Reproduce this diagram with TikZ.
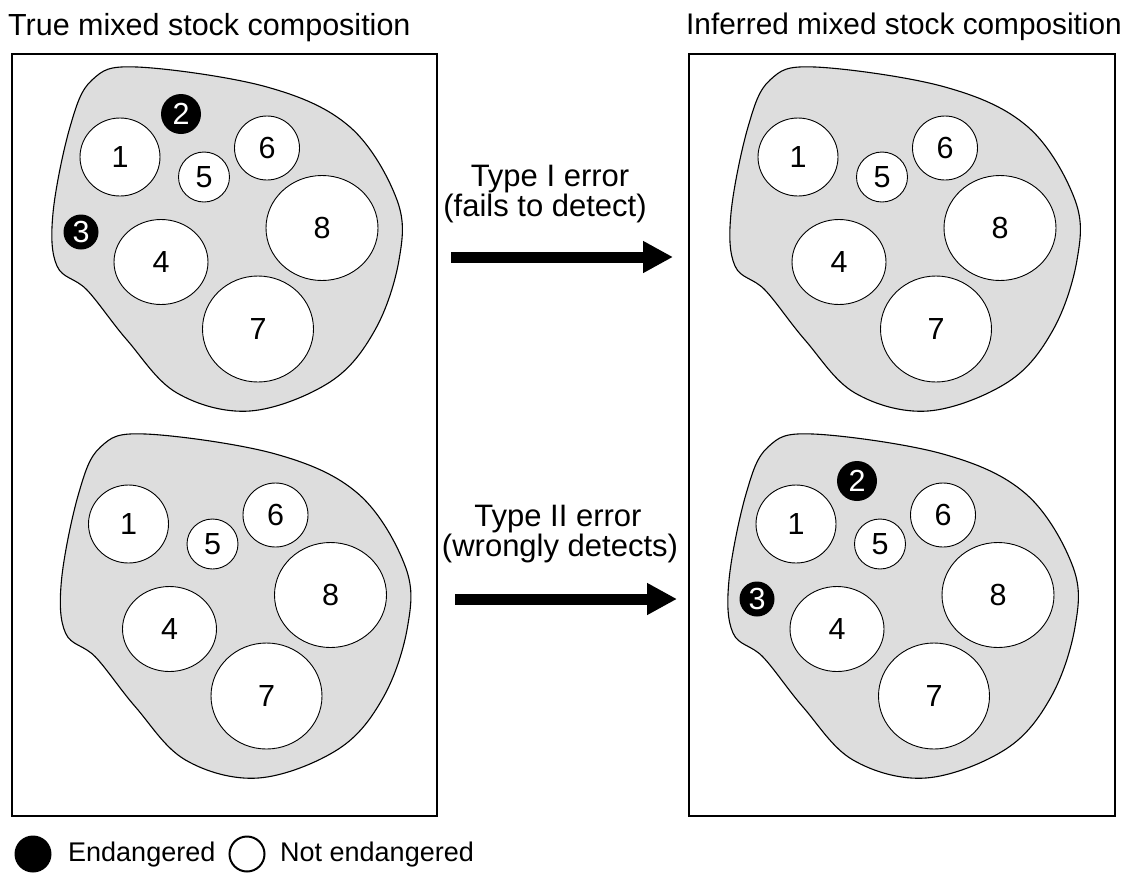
\documentclass[tikz,border=0pt]{standalone}
\usepackage{fontspec}
\setmainfont{Liberation Sans}
\usetikzlibrary{shapes.geometric,arrows.meta}
\definecolor{blobgray}{RGB}{221,221,221}
\tikzset{
  boxframe/.style={draw, line width=2pt},
  blob/.style={draw, fill=blobgray, line width=1.1pt},
  wnode/.style={ellipse, draw, fill=white, line width=0.9pt, inner sep=0pt, font=\fontsize{30.5}{30}\selectfont},
  bnode/.style={circle, fill=black, text=white, inner sep=0pt, font=\fontsize{30.5}{30}\selectfont},
  titletext/.style={anchor=base west, inner sep=0pt, font=\fontsize{30.5}{30}\selectfont},
  lbltext/.style={anchor=base, inner sep=0pt, font=\fontsize{31}{30}\selectfont},
  legtext/.style={anchor=west, inner sep=0pt, font=\fontsize{27}{27}\selectfont},
  bigarrow/.style={line width=11pt, -{Triangle[length=30pt,width=30pt]}},
}
\newcommand{\Panel}[4]{%
\begin{scope}[shift={(#1,#2)}]
  \draw[blob] plot[smooth cycle, tension=0.6] coordinates {(137,67) (267,87) (350,127) (397,200) (399,260) (375,330) (330,382) (250,411) (177,393) (127,340) (87,290) (57,266) (53,213) (70,127) (92,80)};
  \node[wnode, minimum width=80pt, minimum height=78pt] (#3n1) at (120,157) {1};
  \node[wnode, minimum width=51pt, minimum height=50pt] (#3n5) at (204,177) {5};
  \node[wnode, minimum width=65pt, minimum height=64pt] (#3n6) at (267,148) {6};
  \node[wnode, minimum width=94pt, minimum height=85pt] (#3n4) at (161,262) {4};
  \node[wnode, minimum width=112pt, minimum height=105pt] (#3n8) at (322,228) {8};
  \node[wnode, minimum width=111pt, minimum height=106pt] (#3n7) at (258,329) {7};
  \ifnum#4=1
    \node[bnode, minimum size=40pt] (#3n2) at (181,114) {2};
    \node[bnode, minimum size=35pt] (#3n3) at (81,232) {3};
  \fi
\end{scope}}
\begin{document}
\begin{tikzpicture}[x=1pt, y=-1pt]
  \useasboundingbox (0,0) rectangle (1138,876);
  % titles
  \node[titletext] (ttrue) at (8,35) {True mixed stock composition};
  \node[titletext, font=\fontsize{29.8}{30}\selectfont] (tinf) at (686,34) {Inferred mixed stock composition};
  % frames
  \draw[boxframe] (12,54) rectangle (437,816);
  \draw[boxframe] (689,54) rectangle (1115,816);
  % panels
  \Panel{0}{0}{TL}{1}
  \Panel{8.5}{367}{BL}{0}
  \Panel{678}{0}{TR}{0}
  \Panel{676}{367}{BR}{1}
  % arrows
  \coordinate (a1s) at (451,257);
  \coordinate (a1e) at (673,257);
  \coordinate (a2s) at (455,599);
  \coordinate (a2e) at (677,599);
  \draw[bigarrow] (a1s) -- (a1e);
  \draw[bigarrow] (a2s) -- (a2e);
  \node[lbltext] (l1a) at (550,186) {Type I error};
  \node[lbltext] (l1b) at (545,216) {(fails to detect)};
  \node[lbltext] (l2a) at (558,526) {Type II error};
  \node[lbltext] (l2b) at (560,556) {(wrongly detects)};
  % legend
  \node[circle, fill=black, minimum size=37pt, inner sep=0pt] (legb) at (33,854) {};
  \node[legtext] (legbt) at (68,855) {Endangered};
  \node[circle, draw, line width=2pt, minimum size=35pt, inner sep=0pt] (legw) at (247,854) {};
  \node[legtext] (legwt) at (280,855) {Not endangered};
\end{tikzpicture}
\end{document}
